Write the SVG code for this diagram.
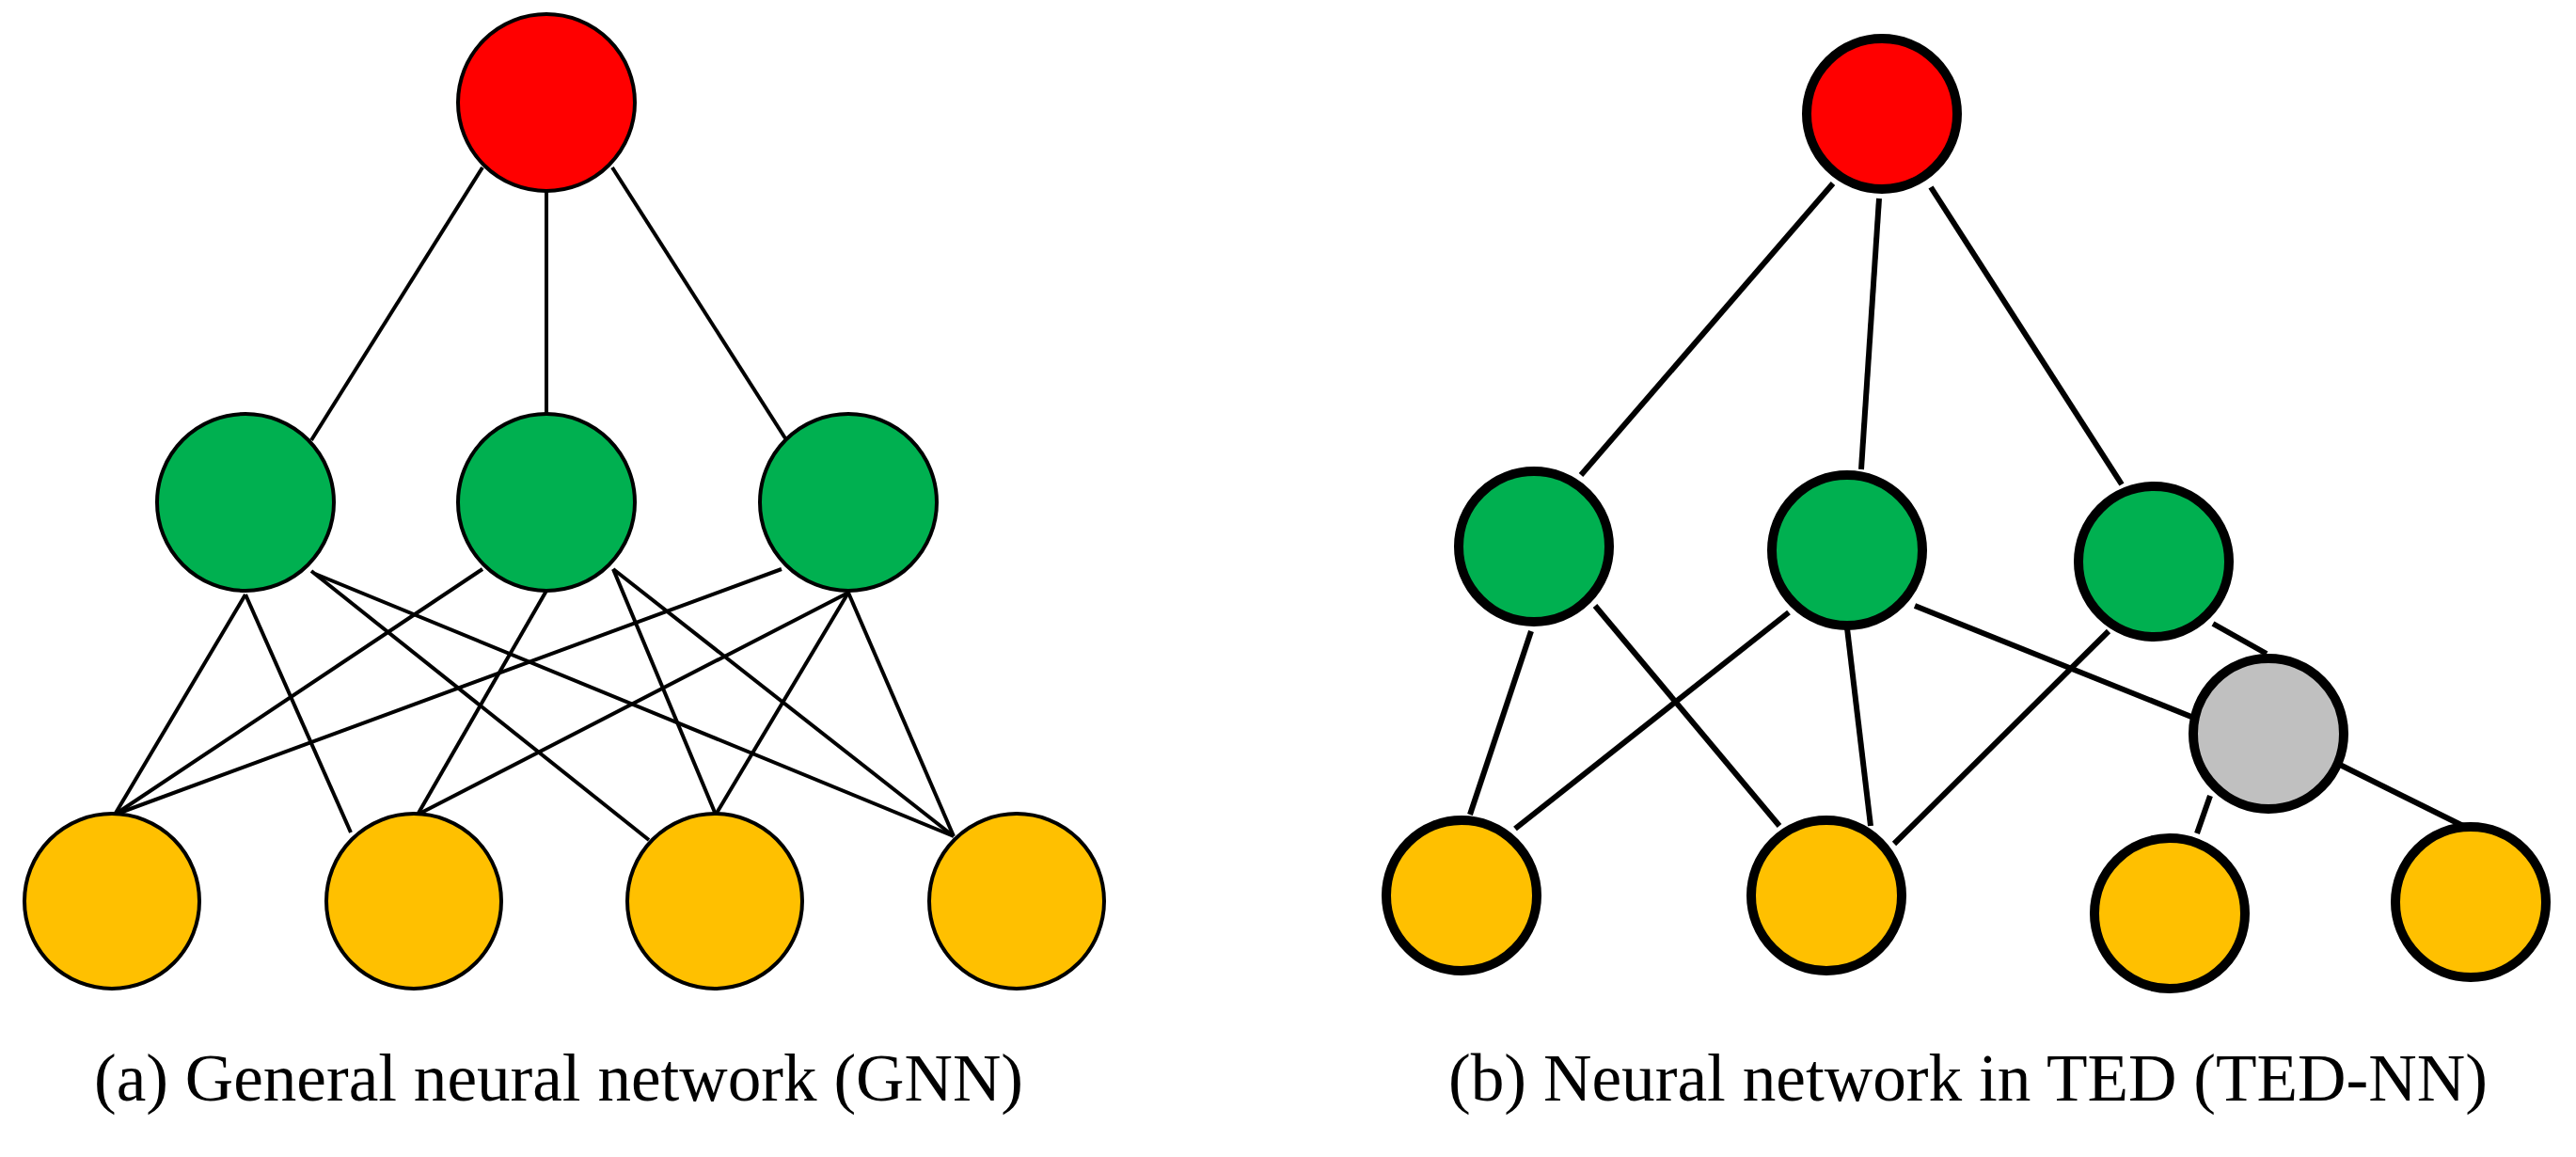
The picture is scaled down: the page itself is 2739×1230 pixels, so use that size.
<svg xmlns="http://www.w3.org/2000/svg" width="2739" height="1230" viewBox="0 0 2739 1230">
<style>
.la{stroke:#000;stroke-width:4;fill:none}
.lb{stroke:#000;stroke-width:6;fill:none}
.ca{stroke:#000;stroke-width:4}
.cb{stroke:#000;stroke-width:10}
.r{fill:#ff0000}.g{fill:#00b050}.y{fill:#ffc000}.gr{fill:#c0c0c0}
.t{font-family:"Liberation Serif","Times New Roman",serif;font-size:72px;fill:#000}
</style>
<rect width="2739" height="1230" fill="#fff"/>
<g id="connectors">
<line class="la" x1="513" y1="178" x2="331" y2="468"/>
<line class="la" x1="581" y1="204" x2="581" y2="441"/>
<line class="la" x1="651" y1="178" x2="835" y2="466"/>
<line class="la" x1="261" y1="632" x2="122" y2="866"/>
<line class="la" x1="261" y1="632" x2="373" y2="885"/>
<line class="la" x1="331" y1="607" x2="690" y2="893"/>
<line class="la" x1="335" y1="610" x2="1014" y2="889"/>
<line class="la" x1="513" y1="605" x2="122" y2="866"/>
<line class="la" x1="581" y1="628" x2="444" y2="866"/>
<line class="la" x1="652" y1="605" x2="761" y2="866"/>
<line class="la" x1="652" y1="605" x2="1014" y2="889"/>
<line class="la" x1="831" y1="605" x2="122" y2="866"/>
<line class="la" x1="902" y1="630" x2="444" y2="866"/>
<line class="la" x1="902" y1="630" x2="761" y2="866"/>
<line class="la" x1="902" y1="630" x2="1014" y2="889"/>
<line class="lb" x1="1949" y1="195" x2="1681" y2="505"/>
<line class="lb" x1="1998" y1="211" x2="1979" y2="499"/>
<line class="lb" x1="2053" y1="199" x2="2256" y2="515"/>
<line class="lb" x1="1628" y1="671" x2="1563" y2="866"/>
<line class="lb" x1="1696" y1="644" x2="1892" y2="878"/>
<line class="lb" x1="1902" y1="651" x2="1611" y2="881"/>
<line class="lb" x1="1962" y1="651" x2="1989" y2="878"/>
<line class="lb" x1="2036" y1="644" x2="2340" y2="766"/>
<line class="lb" x1="2242" y1="671" x2="2014" y2="897"/>
<line class="lb" x1="2353" y1="663" x2="2410" y2="695"/>
<line class="lb" x1="2350" y1="846" x2="2336" y2="886"/>
<line class="lb" x1="2482" y1="810" x2="2623" y2="880"/>
</g>
<g id="a-red"><circle class="ca r" cx="581" cy="109" r="94"/></g>
<g id="a-green1"><circle class="ca g" cx="261" cy="534" r="94"/></g>
<g id="a-green2"><circle class="ca g" cx="581" cy="534" r="94"/></g>
<g id="a-green3"><circle class="ca g" cx="902" cy="534" r="94"/></g>
<g id="a-yellow1"><circle class="ca y" cx="119" cy="958" r="93"/></g>
<g id="a-yellow2"><circle class="ca y" cx="440" cy="958" r="93"/></g>
<g id="a-yellow3"><circle class="ca y" cx="760" cy="958" r="93"/></g>
<g id="a-yellow4"><circle class="ca y" cx="1081" cy="958" r="93"/></g>
<g id="b-red"><circle class="cb r" cx="2001" cy="121" r="80"/></g>
<g id="b-green1"><circle class="cb g" cx="1631" cy="581" r="80"/></g>
<g id="b-green2"><circle class="cb g" cx="1964" cy="585" r="80"/></g>
<g id="b-green3"><circle class="cb g" cx="2290" cy="597" r="80"/></g>
<g id="b-gray"><circle class="cb gr" cx="2412" cy="780" r="80"/></g>
<g id="b-yellow1"><circle class="cb y" cx="1554" cy="952" r="80"/></g>
<g id="b-yellow2"><circle class="cb y" cx="1942" cy="952" r="80"/></g>
<g id="b-yellow3"><circle class="cb y" cx="2307" cy="971" r="80"/></g>
<g id="b-yellow4"><circle class="cb y" cx="2627" cy="959" r="80"/></g>
<text class="t" x="100" y="1170" textLength="988" lengthAdjust="spacingAndGlyphs">(a) General neural network (GNN)</text>
<text class="t" x="1540" y="1170" textLength="1105" lengthAdjust="spacingAndGlyphs">(b) Neural network in TED (TED-NN)</text>
</svg>
